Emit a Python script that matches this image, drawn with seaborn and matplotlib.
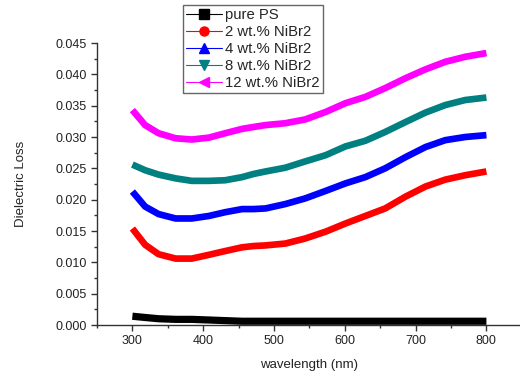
import matplotlib
matplotlib.use("Agg")
import matplotlib.pyplot as plt
from matplotlib.lines import Line2D
from matplotlib.ticker import MultipleLocator, FormatStrFormatter
import seaborn as sns
import pandas as pd

# Dielectric loss vs wavelength for PS films doped with NiBr2
wavelength = [300, 318, 337, 361, 384, 408, 431, 455, 471, 488, 516,
              544, 573, 601, 629, 657, 686, 714, 742, 770, 800]

pure_ps = [0.0014, 0.0012, 0.0010, 0.0009, 0.0009, 0.0008, 0.0007, 0.0006, 0.0006, 0.0006, 0.0006,
           0.0006, 0.0006, 0.0006, 0.0006, 0.0006, 0.0006, 0.0006, 0.0006, 0.0006, 0.0006]
nibr2_2 = [0.0154, 0.0128, 0.0113, 0.0106, 0.0106, 0.0112, 0.0118, 0.0124, 0.0126, 0.0127, 0.0130,
           0.0138, 0.0149, 0.0162, 0.0174, 0.0186, 0.0205, 0.0221, 0.0232, 0.0239, 0.0245]
nibr2_4 = [0.0213, 0.0189, 0.0177, 0.0170, 0.0170, 0.0174, 0.0180, 0.0185, 0.0185, 0.0186, 0.0193,
           0.0202, 0.0214, 0.0226, 0.0236, 0.0250, 0.0268, 0.0284, 0.0295, 0.0300, 0.0303]
nibr2_8 = [0.0256, 0.0247, 0.0240, 0.0234, 0.0230, 0.0230, 0.0231, 0.0236, 0.0241, 0.0245, 0.0251,
           0.0261, 0.0271, 0.0285, 0.0294, 0.0308, 0.0324, 0.0339, 0.0351, 0.0359, 0.0363]
nibr2_12 = [0.0343, 0.0319, 0.0306, 0.0298, 0.0296, 0.0299, 0.0306, 0.0313, 0.0316, 0.0319, 0.0322,
            0.0328, 0.0340, 0.0354, 0.0364, 0.0378, 0.0394, 0.0408, 0.0420, 0.0428, 0.0434]

labels = ["pure PS", "2 wt.% NiBr2", "4 wt.% NiBr2", "8 wt.% NiBr2", "12 wt.% NiBr2"]
series = [pure_ps, nibr2_2, nibr2_4, nibr2_8, nibr2_12]
colors = ["#000000", "#FF0000", "#0000FF", "#008080", "#FF00FF"]
markers = ["s", "o", "^", "v", "<"]
xticks = [300, 400, 500, 600, 700, 800]

frames = [pd.DataFrame({"wavelength": wavelength, "loss": vals, "sample": lab})
          for lab, vals in zip(labels, series)]
df = pd.concat(frames, ignore_index=True)

sns.set_style("ticks")
plt.rcParams["font.family"] = ["Liberation Sans", "DejaVu Sans"]

fig = plt.figure(figsize=(5.2, 3.74), dpi=100)
ax = fig.add_axes([0.1865, 0.131, 0.817, 0.754])

sns.lineplot(data=df, x="wavelength", y="loss", hue="sample", hue_order=labels,
             palette=colors, linewidth=4.8, legend=False, ax=ax,
             solid_capstyle="butt", solid_joinstyle="round")
# pure PS trace is drawn a little heavier
ax.lines[0].set_linewidth(5.2)

ax.set_xlim(250, 850)
ax.set_ylim(0, 0.045)
ax.set_xticks(xticks)
ax.xaxis.set_minor_locator(MultipleLocator(50))
ax.yaxis.set_major_locator(MultipleLocator(0.005))
ax.yaxis.set_minor_locator(MultipleLocator(0.0025))
ax.yaxis.set_major_formatter(FormatStrFormatter("%.3f"))

for side in ["top", "right"]:
    ax.spines[side].set_visible(False)
for side in ["left", "bottom"]:
    ax.spines[side].set_linewidth(1.0)
    ax.spines[side].set_color("#333333")

ax.tick_params(axis="both", which="major", direction="out", length=4, width=1,
               labelsize=9, colors="#333333", labelcolor="#222222")
ax.tick_params(axis="both", which="minor", direction="out", length=2.5, width=1,
               colors="#333333")

ax.set_xlabel("wavelength (nm)", fontsize=9.5, color="#222222", labelpad=8)
ax.set_ylabel("Dielectric Loss", fontsize=9.5, color="#222222", labelpad=20)

handles = [Line2D([], [], color=c, marker=m, markersize=6.5, linewidth=0.8, label=l)
           for c, m, l in zip(colors, markers, labels)]
leg = fig.legend(handles=handles, loc="upper left", bbox_to_anchor=(0.352, 0.987),
                 bbox_transform=fig.transFigure, fontsize=10.7, frameon=True,
                 fancybox=False, edgecolor="#666666", framealpha=1,
                 labelspacing=0.2, handlelength=2.4, handletextpad=0.25,
                 borderpad=0.2, borderaxespad=0)
leg.get_frame().set_linewidth(1.0)

fig.savefig("out.png", dpi=100)
